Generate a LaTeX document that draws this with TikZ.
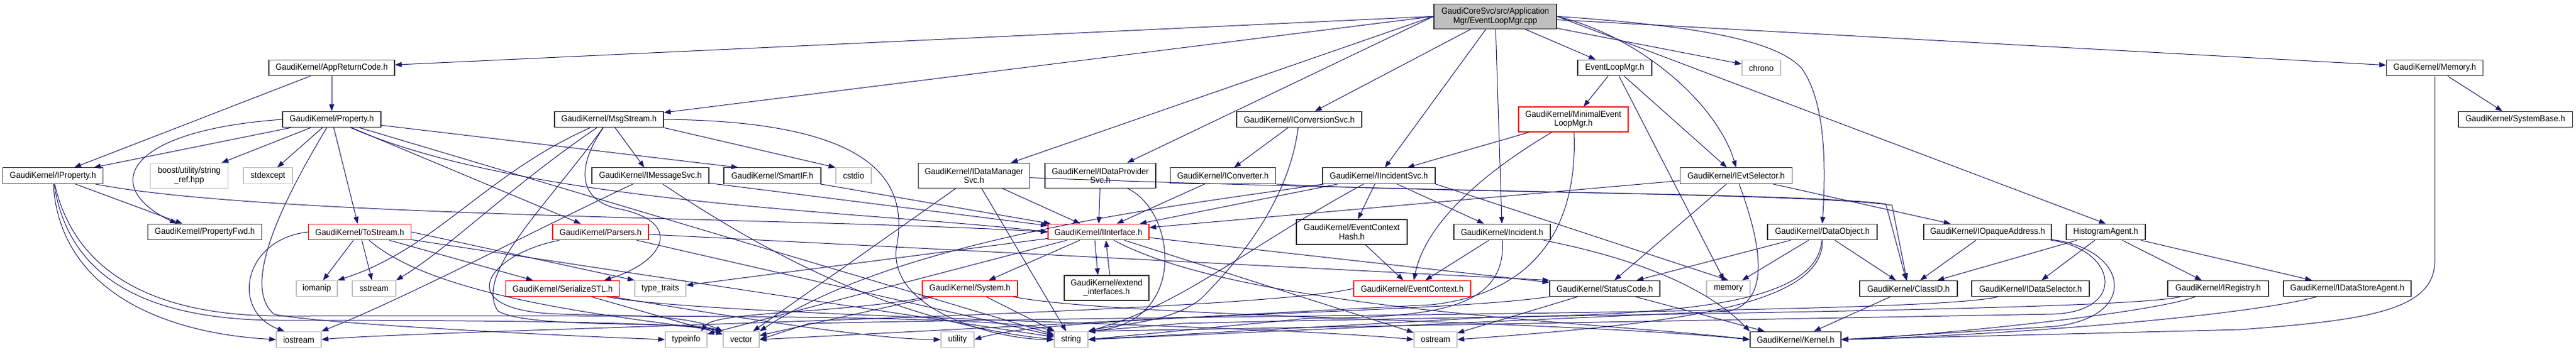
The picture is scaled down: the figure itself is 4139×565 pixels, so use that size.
\documentclass[tikz,border=0pt]{standalone}
\usepackage{fontspec}
\setmainfont{Liberation Sans}[FakeStretch=0.93]
\usepackage{xcolor}
\usepackage{tikz}
\definecolor{edgeblue}{RGB}{25, 25, 112}
\definecolor{sysgray}{RGB}{191, 191, 191}
\usetikzlibrary{arrows.meta}

\begin{document}
\begin{tikzpicture}[
    x=1pt, y=1pt,
    file/.style={rectangle, draw=black!80, fill=white, line width=1.1pt,
                 minimum height=25.5pt, inner sep=2pt, align=center,
                 font=\fontsize{14}{14.5}\selectfont},
    twoline/.style={minimum height=40pt},
    trunc/.style={draw=red},
    sys/.style={draw=sysgray},
    srcfile/.style={fill=sysgray},
    inc/.style={-{Triangle[length=11pt, width=8pt]}, draw=edgeblue, line width=1pt}
]
    \fill[white] (0,0) rectangle (4139,-565);
    \useasboundingbox (0,0) rectangle (4139,-565);

    % Source file
    \node[file, twoline, srcfile, minimum width=197] (root) at (2402.5,-26.3) {GaudiCoreSvc/src/Application\\Mgr/EventLoopMgr.cpp};

    % Row 1
    \node[file, minimum width=202] (apprc) at (533,-109) {GaudiKernel/AppReturnCode.h};
    \node[file, minimum width=119] (elmgrh) at (2594.5,-109) {EventLoopMgr.h};
    \node[file, sys, minimum width=62] (chrono) at (2830,-109) {chrono};
    \node[file, minimum width=155] (memoryh) at (3912,-109) {GaudiKernel/Memory.h};

    % Row 2
    \node[file, minimum width=158] (prop) at (533,-192) {GaudiKernel/Property.h};
    \node[file, minimum width=175] (msgstream) at (978.5,-192) {GaudiKernel/MsgStream.h};
    \node[file, minimum width=201] (iconvsvc) at (2087.5,-192) {GaudiKernel/IConversionSvc.h};
    \node[file, twoline, trunc, minimum width=176] (minimal) at (2528,-192) {GaudiKernel/MinimalEvent\\LoopMgr.h};
    \node[file, minimum width=183] (systembase) at (4041.5,-192) {GaudiKernel/SystemBase.h};

    % Row 3
    \node[file, minimum width=161.5] (iprop) at (85,-282.6) {GaudiKernel/IProperty.h};
    \node[file, twoline, sys, minimum width=125.5] (stringref) at (304,-282.3) {boost/utility/string\\\_ref.hpp};
    \node[file, sys, minimum width=79] (stdexcept) at (430.5,-282.6) {stdexcept};
    \node[file, minimum width=188] (imsgsvc) at (1045,-282.6) {GaudiKernel/IMessageSvc.h};
    \node[file, minimum width=156] (smartif) at (1241,-282.6) {GaudiKernel/SmartIF.h};
    \node[file, sys, minimum width=57] (cstdio) at (1371.5,-282.6) {cstdio};
    \node[file, twoline, minimum width=178.5] (idatamgr) at (1565,-282.3) {GaudiKernel/IDataManager\\Svc.h};
    \node[file, twoline, minimum width=178] (idataprov) at (1768,-282.3) {GaudiKernel/IDataProvider\\Svc.h};
    \node[file, minimum width=169.5] (iconverter) at (1965,-282.6) {GaudiKernel/IConverter.h};
    \node[file, minimum width=181] (iincsvc) at (2215.5,-282.6) {GaudiKernel/IIncidentSvc.h};
    \node[file, minimum width=180.5] (ievtsel) at (2789.5,-282.6) {GaudiKernel/IEvtSelector.h};

    % Row 4
    \node[file, minimum width=183] (propfwd) at (329,-373) {GaudiKernel/PropertyFwd.h};
    \node[file, trunc, minimum width=165.5] (tostream) at (578,-373) {GaudiKernel/ToStream.h};
    \node[file, trunc, minimum width=154] (parsers) at (965,-373) {GaudiKernel/Parsers.h};
    \node[file, trunc, minimum width=162] (iinterface) at (1765,-373) {GaudiKernel/IInterface.h};
    \node[file, twoline, minimum width=178] (evctxhash) at (2172,-373) {GaudiKernel/EventContext\\Hash.h};
    \node[file, minimum width=155] (incident) at (2413.5,-373) {GaudiKernel/Incident.h};
    \node[file, minimum width=176] (dataobj) at (2928,-373) {GaudiKernel/DataObject.h};
    \node[file, minimum width=205] (iopaque) at (3193.5,-373) {GaudiKernel/IOpaqueAddress.h};
    \node[file, minimum width=127] (histagent) at (3383.5,-373) {HistogramAgent.h};

    % Row 5
    \node[file, sys, minimum width=66] (iomanip) at (509,-464) {iomanip};
    \node[file, sys, minimum width=70] (sstream) at (601,-464) {sstream};
    \node[file, trunc, minimum width=182.5] (serialize) at (904,-464) {GaudiKernel/SerializeSTL.h};
    \node[file, sys, minimum width=82] (typetraits) at (1061,-464) {type\_traits};
    \node[file, trunc, minimum width=153] (system) at (1558.5,-464) {GaudiKernel/System.h};
    \node[file, twoline, minimum width=136] (extendif) at (1778,-463) {GaudiKernel/extend\\\_interfaces.h};
    \node[file, trunc, minimum width=188] (evctx) at (2269,-464) {GaudiKernel/EventContext.h};
    \node[file, minimum width=177] (statuscode) at (2578.5,-464) {GaudiKernel/StatusCode.h};
    \node[file, sys, minimum width=70] (memory) at (2777,-464) {memory};
    \node[file, minimum width=157] (classid) at (3066.5,-464) {GaudiKernel/ClassID.h};
    \node[file, minimum width=189] (idatasel) at (3262.5,-464) {GaudiKernel/IDataSelector.h};
    \node[file, minimum width=162] (iregistry) at (3564,-464) {GaudiKernel/IRegistry.h};
    \node[file, minimum width=205] (idatastore) at (3771.5,-464) {GaudiKernel/IDataStoreAgent.h};

    % Row 6
    \node[file, sys, minimum width=72] (iostream) at (480,-546) {iostream};
    \node[file, sys, minimum width=67] (typeinfo) at (1102.5,-546) {typeinfo};
    \node[file, sys, minimum width=58] (vector) at (1191,-546) {vector};
    \node[file, sys, minimum width=53] (utility) at (1538.5,-546) {utility};
    \node[file, sys, minimum width=54] (string) at (1721,-546) {string};
    \node[file, sys, minimum width=69] (ostream) at (2306.5,-546) {ostream};
    \node[file, minimum width=146] (kernel) at (2885,-546) {GaudiKernel/Kernel.h};

    % EventLoopMgr.cpp
    \draw[inc] (root.west) -- (apprc);
    \draw[inc] (root.west) -- (msgstream);
    \draw[inc] (root.west) -- (idatamgr);
    \draw[inc] (root.west) -- (idataprov);
    \draw[inc] (root) -- (iconvsvc);
    \draw[inc] (root) -- (iincsvc);
    \draw[inc] (root) -- (incident);
    \draw[inc] (root) -- (elmgrh);
    \draw[inc] (root) -- (chrono);
    \draw[inc] (root.east) .. controls (2640,-60) and (2760,-170) .. (ievtsel.north);
    \draw[inc] (root.east) .. controls (2700,-40) and (2850,-60) .. (2895,-110) .. controls (2930,-160) and (2935,-250) .. (dataobj.north);
    \draw[inc] (root.east) -- (histagent.north);
    \draw[inc] (root) -- (memoryh);

    % AppReturnCode.h
    \draw[inc] (apprc) -- (iprop);
    \draw[inc] (apprc) -- (prop);

    % Property.h
    \draw[inc] (prop) -- (iprop);
    \draw[inc] (prop.west) .. controls (200,-210) and (160,-300) .. ([xshift=-45]propfwd.north);
    \draw[inc] (prop) -- (stringref);
    \draw[inc] (prop) -- (stdexcept);
    \draw[inc] (prop) -- (tostream);
    \draw[inc] (prop) -- (parsers);
    \draw[inc] (prop) -- ([xshift=-55]smartif.north);
    \draw[inc] (prop) .. controls (850,-330) and (1400,-340) .. (iinterface.west);
    \draw[inc] (prop) .. controls (420,-380) and (400,-470) .. (440,-505) .. controls (500,-520) and (900,-540) .. (typeinfo.west);
    \draw[inc] (prop) -- (string);

    % IProperty.h
    \draw[inc] (iprop) .. controls (430,-350) and (1300,-350) .. (iinterface.west);
    \draw[inc] (iprop) -- (propfwd);
    \draw[inc] (iprop) .. controls (95,-460) and (250,-535) .. (iostream.west);
    \draw[inc] (iprop) .. controls (120,-440) and (250,-508) .. (450,-508) .. controls (1000,-508) and (1600,-505) .. (string.north west);
    \draw[inc] (iprop) .. controls (110,-450) and (240,-515) .. (450,-515) .. controls (900,-515) and (1100,-520) .. (vector.north west);

    % MsgStream.h
    \draw[inc] (msgstream) -- (imsgsvc);
    \draw[inc] (msgstream.south east) -- (cstdio.north west);
    \draw[inc] (msgstream) .. controls (925,-270) and (930,-320) .. (990,-335) .. controls (1100,-355) and (1070,-420) .. ([xshift=-25]serialize.north east);
    \draw[inc] (msgstream) .. controls (780,-280) and (700,-400) .. (iomanip.north east);
    \draw[inc] (msgstream) .. controls (820,-300) and (720,-400) .. (sstream.north east);
    \draw[inc] (msgstream.east) .. controls (1420,-195) and (1460,-300) .. (1440,-400) .. controls (1430,-500) and (1600,-546) .. (string.west);
    \draw[inc] (msgstream) .. controls (880,-330) and (760,-440) .. (800,-500) .. controls (850,-530) and (1100,-515) .. (vector.north west);

    % IMessageSvc.h
    \draw[inc] (imsgsvc) -- (iinterface);
    \draw[inc] (imsgsvc) .. controls (860,-370) and (650,-480) .. (iostream.north east);
    \draw[inc] (imsgsvc) .. controls (1250,-420) and (1450,-520) .. (string.west);

    % SmartIF.h
    \draw[inc] (smartif) -- (iinterface);

    % ToStream.h
    \draw[inc] (tostream.west) .. controls (390,-385) and (370,-500) .. (iostream.150);
    \draw[inc] (tostream) -- (iomanip);
    \draw[inc] (tostream) -- (sstream);
    \draw[inc] (tostream) -- (serialize);
    \draw[inc] (tostream.east) -- (typetraits.north west);
    \draw[inc] (tostream) .. controls (700,-480) and (1000,-510) .. (vector.north west);
    \draw[inc] (tostream) -- (string);

    % Parsers.h
    \draw[inc] (parsers) -- (statuscode.north west);
    \draw[inc] (parsers) -- (string);
    \draw[inc] (parsers) .. controls (780,-410) and (720,-500) .. (900,-505) .. controls (1000,-508) and (1100,-505) .. (vector.north west);

    % SerializeSTL.h
    \draw[inc] (serialize) -- (vector);
    \draw[inc] (serialize) .. controls (1150,-510) and (2000,-520) .. (ostream.west);
    \draw[inc] (serialize) .. controls (1150,-505) and (1400,-546) .. (utility.west);

    % IInterface.h
    \draw[inc] (iinterface) -- (system);
    \draw[inc] ([xshift=-6]iinterface.south) -- ([xshift=-14]extendif.north);
    \draw[inc] ([xshift=5]extendif.north) -- ([xshift=12]iinterface.south);
    \draw[inc] (iinterface) -- (statuscode);
    \draw[inc] (iinterface) .. controls (2000,-500) and (2600,-520) .. (kernel.west);
    \draw[inc] (iinterface) -- (ostream);
    \draw[inc] (iinterface) -- (typetraits);
    \draw[inc] (iinterface) -- (typeinfo);

    % System.h
    \draw[inc] (system) -- (vector);
    \draw[inc] (system) .. controls (1350,-505) and (1150,-500) .. ([xshift=-10]typeinfo.north east);
    \draw[inc] (system) -- (string);
    \draw[inc] (system) .. controls (1800,-510) and (2500,-515) .. (kernel.west);

    % IDataManagerSvc.h
    \draw[inc] (idatamgr) -- (iinterface);
    \draw[inc] (idatamgr) .. controls (2300,-310) and (2900,-310) .. (3040,-330) -- (classid);
    \draw[inc] (idatamgr) -- (string);
    \draw[inc] (idatamgr) -- (vector);

    % IDataProviderSvc.h
    \draw[inc] (idataprov) -- (iinterface);
    \draw[inc] (idataprov) .. controls (1890,-340) and (1910,-520) .. (string.north east);

    % IConversionSvc.h
    \draw[inc] (iconvsvc) -- (iconverter);
    \draw[inc] (iconvsvc) .. controls (2070,-330) and (1980,-430) .. (1930,-480) .. controls (1880,-520) and (1800,-520) .. (string.north east);

    % IConverter.h
    \draw[inc] (iconverter) -- (iinterface);
    \draw[inc] (iconverter.south east) .. controls (2300,-310) and (2900,-310) .. (3030,-328) -- (classid);

    % IIncidentSvc.h
    \draw[inc] (iincsvc) -- (iinterface);
    \draw[inc] (iincsvc) -- (evctxhash);
    \draw[inc] (iincsvc) -- (incident);
    \draw[inc] (iincsvc.south east) -- (memory.north);
    \draw[inc] (iincsvc) .. controls (2000,-400) and (1900,-490) .. (string.north east);
    \draw[inc] (iincsvc) .. controls (1900,-330) and (1450,-380) .. (vector.north east);

    % Incident.h
    \draw[inc] (incident) -- (evctx);
    \draw[inc] (incident) .. controls (2420,-500) and (2300,-510) .. (2100,-512) -- (string.east);
    \draw[inc] (incident) .. controls (2650,-420) and (2750,-470) .. (kernel.north west);

    % EventContextHash.h
    \draw[inc] (evctxhash) -- (evctx);

    % EventContext.h
    \draw[inc] (evctx.west) .. controls (2000,-505) and (700,-530) .. (iostream.east);

    % MinimalEventLoopMgr.h
    \draw[inc] (minimal) -- (iincsvc);
    \draw[inc] (minimal) .. controls (2380,-280) and (2290,-360) .. (evctx);
    \draw[inc] (minimal) .. controls (2535,-350) and (2480,-470) .. (2300,-490) -- (vector.east);

    % EventLoopMgr.h
    \draw[inc] (elmgrh) -- (minimal);
    \draw[inc] (elmgrh) -- (memory);
    \draw[inc] (elmgrh) -- (ievtsel);

    % IEvtSelector.h
    \draw[inc] (ievtsel) -- (iinterface);
    \draw[inc] (ievtsel) -- (statuscode);
    \draw[inc] (ievtsel) -- (iopaque);
    \draw[inc] (ievtsel) .. controls (2825,-380) and (2850,-480) .. (2780,-500) -- (string.east);

    % DataObject.h
    \draw[inc] (dataobj) -- (classid);
    \draw[inc] (dataobj) -- (statuscode);
    \draw[inc] (dataobj) -- (memory);
    \draw[inc] (dataobj) .. controls (2920,-490) and (2700,-505) .. (2400,-510) -- (string.east);
    \draw[inc] (dataobj) .. controls (2930,-490) and (2700,-520) .. (ostream.east);

    % IOpaqueAddress.h
    \draw[inc] (iopaque) -- (classid);
    \draw[inc] (iopaque) .. controls (3420,-400) and (3440,-510) .. (3300,-525) -- (kernel.east);
    \draw[inc] (iopaque) .. controls (3400,-400) and (3420,-500) .. (3300,-505) -- (string.north east);

    % HistogramAgent.h
    \draw[inc] (histagent) -- (classid);
    \draw[inc] (histagent) -- (idatasel);
    \draw[inc] (histagent) -- (iregistry);
    \draw[inc] (histagent) -- (idatastore);

    % IDataSelector.h, IRegistry.h, IDataStoreAgent.h, ClassID.h
    \draw[inc] (idatasel) .. controls (3100,-505) and (2000,-505) .. (1300,-520) -- (vector.east);
    \draw[inc] (iregistry) .. controls (3450,-505) and (3100,-540) .. (kernel.east);
    \draw[inc] (iregistry) .. controls (3400,-500) and (2500,-505) .. (1900,-520) -- (string.north east);
    \draw[inc] (idatastore) .. controls (3600,-510) and (3200,-540) .. (kernel.east);
    \draw[inc] (classid) -- (kernel);

    % StatusCode.h
    \draw[inc] (statuscode) -- (ostream);
    \draw[inc] (statuscode) -- (kernel);
    \draw[inc] (statuscode) .. controls (2300,-505) and (1700,-505) .. (utility.east);

    % Memory.h
    \draw[inc] (memoryh) -- (systembase);
    \draw[inc] (memoryh) -- (3912,-420) .. controls (3912,-500) and (3800,-515) .. (3600,-530) -- (kernel.east);
\end{tikzpicture}
\end{document}
